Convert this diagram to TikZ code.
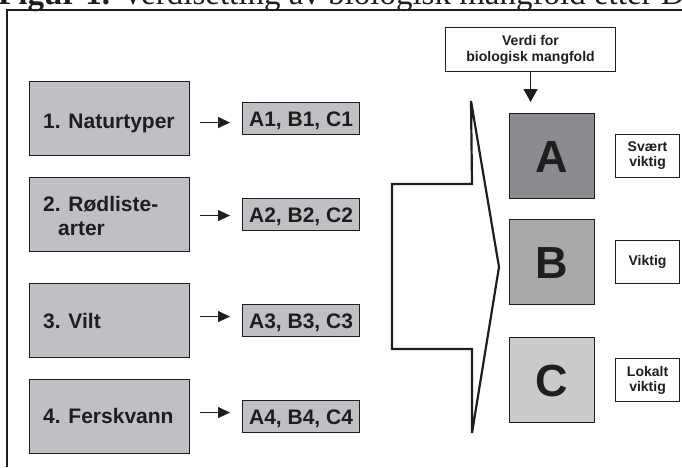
\documentclass[tikz,border=0pt]{standalone}
\usepackage{fontspec}
\setmainfont{Liberation Sans}
\newfontfamily\titlefont{Liberation Serif}
\usetikzlibrary{arrows.meta}
\definecolor{boxgray}{HTML}{BFC0C3}
\definecolor{agray}{HTML}{8B8C8F}
\definecolor{bgray}{HTML}{A8A9AB}
\definecolor{cgray}{HTML}{C9CACC}
\definecolor{ink}{HTML}{1E1E1E}
\begin{document}
\begin{tikzpicture}[x=1pt,y=-1pt,
  catbox/.style={draw=ink,fill=boxgray,line width=1.1pt,minimum width=160pt,minimum height=74pt,anchor=north west,inner sep=0pt},
  cattext/.style={anchor=base west,inner sep=0pt,text=ink,font=\bfseries\fontsize{21pt}{24pt}\selectfont},
  codebox/.style={draw=ink,fill=boxgray,line width=1.1pt,minimum width=117pt,minimum height=32pt,anchor=north west,inner sep=0pt,text=ink,text height=15pt,text depth=0pt,font=\bfseries\fontsize{21pt}{24pt}\selectfont},
  arr/.style={draw=ink,line width=1.2pt,-{Triangle[length=12pt,width=11pt]}},
  darr/.style={draw=ink,line width=1.2pt,-{Triangle[length=13pt,width=14pt]}},
  valbox/.style={draw=ink,line width=1.1pt,minimum width=85pt,minimum height=85pt,anchor=north west,inner sep=0pt,text=ink,text height=32pt,text depth=0pt,font=\bfseries\fontsize{45pt}{50pt}\selectfont},
  labbox/.style={draw=ink,fill=white,line width=1.1pt,minimum width=64pt,minimum height=43pt,anchor=north west,inner sep=0pt,align=center,text=ink,font=\bfseries\fontsize{14pt}{15pt}\selectfont},
]
\clip (0,0) rectangle (682,467);
\useasboundingbox (0,0) rectangle (682,467);
\fill[white] (0,0) rectangle (682,467);

% title (cut at top)
\node[anchor=base west,inner sep=0pt,text=ink,font=\titlefont\fontsize{33pt}{36pt}\selectfont] (title) at (-2,4) {\textbf{Figur 1.} Verdisetting av biologisk mangfold etter DN};

% frame
\draw[draw=ink,line width=1.3pt] (7,467) -- (7,10) -- (682,10);

% category boxes
\node[catbox] (b1) at (29,81) {};
\node[catbox] (b2) at (29,177) {};
\node[catbox] (b3) at (29,283) {};
\node[catbox] (b4) at (29,379) {};
\node[cattext] (t1) at (43,128) {1. Naturtyper};
\node[cattext,align=left] (t2) at (43,235) {2. Rødliste-\\\hspace*{15pt}arter};
\node[cattext] (t3) at (43,328) {3. Vilt};
\node[cattext] (t4) at (43,423) {4. Ferskvann};

% code boxes
\node[codebox] (s1) at (242,102) {A1, B1, C1};
\node[codebox] (s2) at (242,198) {A2, B2, C2};
\node[codebox] (s3) at (242,304) {A3, B3, C3};
\node[codebox] (s4) at (242,400) {A4, B4, C4};

\draw[arr,shorten <=10pt,shorten >=12pt] ([yshift=-4pt]b1.east) -- ([yshift=-4pt]s1.west);
\draw[arr,shorten <=10pt,shorten >=12pt] ([yshift=-1pt]b2.east) -- ([yshift=-1pt]s2.west);
\draw[arr,shorten <=10pt,shorten >=12pt] ([yshift=4pt]b3.east) -- ([yshift=4pt]s3.west);
\draw[arr,shorten <=10pt,shorten >=12pt] ([yshift=4pt]b4.east) -- ([yshift=4pt]s4.west);

% big chevron
\draw[draw=ink,line width=2.2pt,line join=miter] (471,101) -- (499,267) -- (472,433) -- (472,349) -- (392,349) -- (392,184) -- (472,184) -- cycle;

% value header
\node[draw=ink,fill=white,line width=1.1pt,minimum width=170pt,minimum height=44pt,anchor=north west,inner sep=0pt,align=center,text=ink,font=\bfseries\fontsize{14pt}{16pt}\selectfont] (verdi) at (445,27) {Verdi for\\biologisk mangfold};

% value boxes
\node[valbox,fill=agray] (A) at (509,113) {A};
\node[valbox,fill=bgray] (B) at (509,219) {B};
\node[valbox,fill=cgray] (C) at (509,337) {C};

\draw[darr,shorten >=11pt] (verdi.south) -- (verdi.south |- A.north);

% labels
\node[labbox] (la) at (615,134) {Svært\\viktig};
\node[labbox] (lb) at (615,240) {Viktig};
\node[labbox] (lc) at (615,358) {Lokalt\\viktig};
\end{tikzpicture}
\end{document}
